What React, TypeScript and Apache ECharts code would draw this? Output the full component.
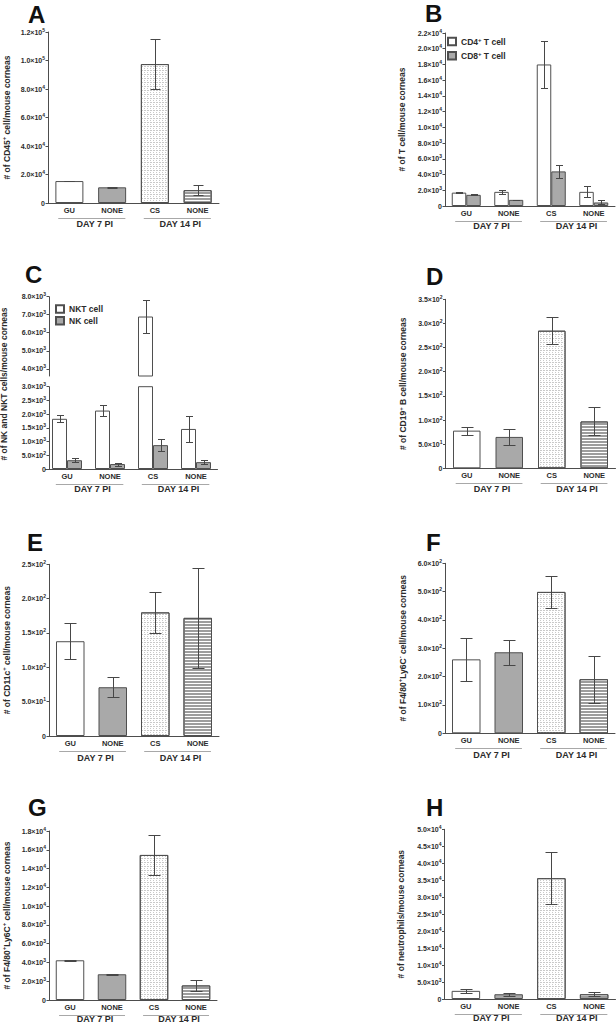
import React, { useEffect, useRef } from 'react';
import * as echarts from 'echarts';

// ---------- data ----------
const CATEGORIES = ['GU', 'NONE', 'CS', 'NONE'];
const GROUP_LABELS = ['DAY 7 PI', 'DAY 14 PI'];
const GROUP_SPANS = [[0, 1], [2, 3]];

const A_MEAN = [15400, 11000, 97500, 9000];
const A_ERR = [300, 250, 17300, 3500];

const B_CD4_MEAN = [1700, 1800, 18000, 1800];
const B_CD4_ERR = [100, 250, 2950, 680];
const B_CD8_MEAN = [1420, 780, 4400, 450];
const B_CD8_ERR = [60, 30, 850, 250];

const C_NKT_MEAN = [1830, 2130, 6900, 1460];
const C_NKT_ERR = [130, 200, 900, 490];
const C_NK_MEAN = [320, 180, 870, 250];
const C_NK_ERR = [70, 55, 220, 70];
const C_BREAK = 3600;
const C_UPPER_TICKS = [4000, 5000, 6000, 7000, 8000];

const D_MEAN = [78, 65, 285, 97];
const D_ERR = [8.5, 17, 28, 29];

const E_MEAN = [138, 71, 180, 172];
const E_ERR = [26, 14.5, 30, 72.5];

const F_MEAN = [261, 286, 499, 191];
const F_ERR = [76, 44, 57, 83];

const G_MEAN = [4230, 2740, 15450, 1550];
const G_ERR = [80, 60, 2100, 550];

const H_MEAN = [2400, 1400, 35600, 1400];
const H_ERR = [550, 450, 7600, 600];

const B_SERIES_NAMES = ['CD4+ T cell', 'CD8+ T cell'];
const C_SERIES_NAMES = ['NKT cell', 'NK cell'];

// ---------- styles ----------
const FONT = '"Liberation Sans", Arial, Helvetica, sans-serif';
const AXIS_COLOR = '#4d4d4d';
const TEXT_COLOR = '#2b2b2b';
const BORDER = '#4f4f4f';
const GREY_FILL = '#a9a9a9';
const GROUP_LINE = '#a8a8a8';

const DOTTED = {
  symbol: 'rect',
  symbolSize: 1,
  dashArrayX: [[2, 1], [1, 2]],
  dashArrayY: [1, 1],
  rotation: 0,
  color: '#c9c9c9',
};
const STRIPES = {
  symbol: 'rect',
  symbolSize: 1,
  dashArrayX: [1, 0],
  dashArrayY: [2, 1],
  rotation: 0,
  color: '#9d9d9d',
};

const SINGLE_STYLES: any[] = [
  { color: '#ffffff', borderColor: BORDER, borderWidth: 1 },
  { color: GREY_FILL, borderColor: BORDER, borderWidth: 1 },
  { color: '#ffffff', borderColor: BORDER, borderWidth: 1, decal: DOTTED },
  { color: '#ffffff', borderColor: BORDER, borderWidth: 1, decal: STRIPES },
];

function sci(v: number): string {
  if (v === 0) return '0';
  const e = Math.floor(Math.log10(v) + 1e-9);
  const m = v / Math.pow(10, e);
  return `${m.toFixed(1)}×10{e|${e}}`;
}

const supStyle = (size: number) => ({
  fontSize: size,
  fontWeight: 'bold',
  fontFamily: FONT,
  color: TEXT_COLOR,
  verticalAlign: 'top',
  lineHeight: size,
});

const GRIDS = [
  { left: 46, top: 32, width: 173, height: 171 }, // A
  { left: 445, top: 33, width: 170, height: 173 }, // B
  { left: 45.5, top: 296.7, width: 172, height: 79.3 }, // C upper
  { left: 45.5, top: 386.7, width: 172, height: 82.3 }, // C lower
  { left: 445.5, top: 299.3, width: 170, height: 169 }, // D
  { left: 47, top: 564.3, width: 172, height: 171.7 }, // E
  { left: 445, top: 563.3, width: 170, height: 170 }, // F
  { left: 46, top: 831, width: 171, height: 169 }, // G
  { left: 444.5, top: 829.3, width: 171, height: 169.7 }, // H
];

function xAxis(gridIndex: number, show = true) {
  return {
    type: 'category',
    gridIndex,
    data: CATEGORIES,
    show,
    axisLine: { show: true, onZero: false, lineStyle: { color: AXIS_COLOR, width: 1 } },
    axisTick: { show: false },
    axisLabel: {
      interval: 0,
      margin: 3,
      fontSize: 7.5,
      fontWeight: 'bold',
      fontFamily: FONT,
      color: TEXT_COLOR,
    },
    splitLine: { show: false },
  };
}

function yAxis(
  gridIndex: number,
  min: number,
  max: number,
  interval: number | undefined,
  name: string,
  nameGap: number,
  extra: any = {}
) {
  const ax: any = {
    type: 'value',
    gridIndex,
    min,
    max,
    name,
    nameLocation: 'middle',
    nameGap,
    nameTextStyle: {
      fontSize: 8.5,
      fontWeight: 'bold',
      fontFamily: FONT,
      color: TEXT_COLOR,
      lineHeight: 11,
      rich: { s: supStyle(6) },
    },
    axisLine: { show: true, lineStyle: { color: AXIS_COLOR, width: 1 } },
    axisTick: { show: true, length: 2.5, lineStyle: { color: AXIS_COLOR } },
    axisLabel: {
      margin: 3,
      fontSize: 7,
      fontWeight: 'bold',
      fontFamily: FONT,
      color: TEXT_COLOR,
      lineHeight: 10,
      formatter: (v: number) => sci(v),
      rich: { e: supStyle(5) },
    },
    splitLine: { show: false },
    ...extra,
  };
  if (interval !== undefined) ax.interval = interval;
  return ax;
}

function singleBar(axisIndex: number, mean: number[], width: number) {
  return {
    type: 'bar',
    xAxisIndex: axisIndex,
    yAxisIndex: axisIndex,
    barWidth: width,
    z: 2,
    data: mean.map((v, i) => ({ value: v, itemStyle: SINGLE_STYLES[i] })),
  };
}

function groupedBar(axisIndex: number, name: string, values: (number | string)[], fill: string, width: number) {
  return {
    type: 'bar',
    name,
    xAxisIndex: axisIndex,
    yAxisIndex: axisIndex,
    barWidth: width,
    barGap: '0%',
    z: 2,
    itemStyle: { color: fill, borderColor: BORDER, borderWidth: 1 },
    data: values,
  };
}

function errSeries(
  axisIndex: number,
  mean: number[],
  err: number[],
  offset: number,
  capHalf: number,
  keep: (m: number) => boolean = () => true
) {
  const data = mean
    .map((m, i) => [i, m, err[i]])
    .filter((d) => keep(d[1]));
  return {
    type: 'custom',
    xAxisIndex: axisIndex,
    yAxisIndex: axisIndex,
    silent: true,
    z: 4,
    clip: false,
    encode: { x: 0, y: 1 },
    data,
    renderItem: (params: any, api: any) => {
      const c = api.value(0);
      const m = api.value(1);
      const e = api.value(2);
      const top = api.coord([c, m + e]);
      const bot = api.coord([c, m - e]);
      const x = Math.round(top[0] + offset) + 0.5;
      const yt = Math.round(top[1]) + 0.5;
      const yb = Math.round(bot[1]) + 0.5;
      const style = { stroke: '#474747', lineWidth: 1 };
      return {
        type: 'group',
        children: [
          { type: 'line', shape: { x1: x, y1: yt, x2: x, y2: yb }, style },
          { type: 'line', shape: { x1: x - capHalf, y1: yt, x2: x + capHalf, y2: yt }, style },
          { type: 'line', shape: { x1: x - capHalf, y1: yb, x2: x + capHalf, y2: yb }, style },
        ],
      };
    },
  };
}

function groupSeries(axisIndex: number, labelOffset = 21) {
  return {
    type: 'custom',
    xAxisIndex: axisIndex,
    yAxisIndex: axisIndex,
    silent: true,
    clip: false,
    encode: { x: 0, y: 1 },
    data: GROUP_SPANS.map((s, i) => [s[0], s[1], i]),
    renderItem: (params: any, api: any) => {
      const a = api.value(0);
      const b = api.value(1);
      const idx = api.value(2);
      const band = api.size([1, 0])[0];
      const cs = params.coordSys;
      const base = cs.y + cs.height;
      const ca = api.coord([a, 0])[0];
      const cb = api.coord([b, 0])[0];
      const x0 = ca - 0.26 * band;
      const x1 = cb + 0.31 * band;
      const ly = Math.round(base + 14.5) + 0.5;
      return {
        type: 'group',
        children: [
          {
            type: 'line',
            shape: { x1: x0, y1: ly, x2: x1, y2: ly },
            style: { stroke: GROUP_LINE, lineWidth: 1 },
          },
          {
            type: 'text',
            x: (x0 + x1) / 2 + 3,
            y: base + labelOffset,
            style: {
              text: GROUP_LABELS[idx],
              font: `bold 9px ${FONT}`,
              fill: TEXT_COLOR,
              align: 'center',
              verticalAlign: 'middle',
            },
          },
        ],
      };
    },
  };
}

function legend(names: string[], left: number, top: number, itemGap: number) {
  return {
    data: names,
    orient: 'vertical',
    left,
    top,
    itemWidth: 8,
    itemHeight: 7.5,
    itemGap,
    icon: 'rect',
    selectedMode: false,
    padding: 0,
    formatter: (n: string) => n.replace('+', '{s|+}'),
    textStyle: {
      fontSize: 8.5,
      fontWeight: 'bold',
      fontFamily: FONT,
      color: TEXT_COLOR,
      lineHeight: 10,
      rich: { s: supStyle(6) },
    },
  };
}

function letter(t: string, x: number, y: number) {
  return {
    type: 'text',
    x,
    y,
    style: {
      text: t,
      font: `bold 24px ${FONT}`,
      fill: '#111111',
      align: 'left',
      verticalAlign: 'middle',
    },
  };
}

function buildOption(): any {
  const cUpperNkt = C_NKT_MEAN.map((v) => (v > C_BREAK ? v : '-'));
  const cUpperNk = C_NK_MEAN.map((v) => (v > C_BREAK ? v : '-'));

  const xAxes = GRIDS.map((_, i) => xAxis(i, i !== 2));
  const yAxes = [
    yAxis(0, 0, 120000, 20000, '# of CD45{s|+} cell/mouse corneas', 36),
    yAxis(1, 0, 22000, 2000, '# of T cell/mouse corneas', 38),
    yAxis(2, C_BREAK, 8000, undefined, '', 0, {
      offset: -3.5,
      axisTick: {
        show: true,
        length: 2.5,
        lineStyle: { color: AXIS_COLOR },
        customValues: C_UPPER_TICKS,
      },
      axisLabel: {
        margin: 3,
        fontSize: 7,
        fontWeight: 'bold',
        fontFamily: FONT,
        color: TEXT_COLOR,
        lineHeight: 10,
        customValues: C_UPPER_TICKS,
        formatter: (v: number) => (v % 1000 === 0 ? sci(v) : ''),
        rich: { e: supStyle(5) },
      },
    }),
    yAxis(3, 0, 3000, 500, '', 0, { offset: -3.5 }),
    yAxis(4, 0, 350, 50, '# of CD19{s|+} B cell/mouse corneas', 37),
    yAxis(5, 0, 250, 50, '# of CD11c{s|+} cell/mouse corneas', 37),
    yAxis(6, 0, 600, 100, '# of F4/80{s|+}Ly6C{s|-} cell/mouse corneas', 37),
    yAxis(7, 0, 18000, 2000, '# of F4/80{s|+}Ly6C{s|+} cell/mouse corneas', 37),
    yAxis(8, 0, 50000, 5000, '# of neutrophils/mouse corneas', 38),
  ];

  const series: any[] = [
    // A
    singleBar(0, A_MEAN, 28),
    errSeries(0, A_MEAN, A_ERR, 0, 5),
    groupSeries(0),
    // B
    groupedBar(1, B_SERIES_NAMES[0], B_CD4_MEAN, '#ffffff', 14.5),
    groupedBar(1, B_SERIES_NAMES[1], B_CD8_MEAN, GREY_FILL, 14.5),
    errSeries(1, B_CD4_MEAN, B_CD4_ERR, -7.25, 3.5),
    errSeries(1, B_CD8_MEAN, B_CD8_ERR, 7.25, 3.5),
    groupSeries(1, 20),
    // C upper
    groupedBar(2, C_SERIES_NAMES[0], cUpperNkt, '#ffffff', 15),
    groupedBar(2, C_SERIES_NAMES[1], cUpperNk, GREY_FILL, 15),
    errSeries(2, C_NKT_MEAN, C_NKT_ERR, -7.5, 3.5, (m) => m > C_BREAK),
    // C lower
    groupedBar(3, C_SERIES_NAMES[0], C_NKT_MEAN, '#ffffff', 15),
    groupedBar(3, C_SERIES_NAMES[1], C_NK_MEAN, GREY_FILL, 15),
    errSeries(3, C_NKT_MEAN, C_NKT_ERR, -7.5, 3.5, (m) => m <= C_BREAK),
    errSeries(3, C_NK_MEAN, C_NK_ERR, 7.5, 3.5, (m) => m <= C_BREAK),
    groupSeries(3, 20),
    // D
    singleBar(4, D_MEAN, 27.5),
    errSeries(4, D_MEAN, D_ERR, 0, 6),
    groupSeries(4, 20.5),
    // E
    singleBar(5, E_MEAN, 28.5),
    errSeries(5, E_MEAN, E_ERR, 0, 6),
    groupSeries(5, 21.5),
    // F
    singleBar(6, F_MEAN, 28.5),
    errSeries(6, F_MEAN, F_ERR, 0, 6),
    groupSeries(6, 21.5),
    // G
    singleBar(7, G_MEAN, 28.5),
    errSeries(7, G_MEAN, G_ERR, 0, 6),
    groupSeries(7, 18.5),
    // H
    singleBar(8, H_MEAN, 28.5),
    errSeries(8, H_MEAN, H_ERR, 0, 6),
    groupSeries(8, 18.5),
  ];

  return {
    animation: false,
    backgroundColor: '#ffffff',
    textStyle: { fontFamily: FONT },
    grid: GRIDS.map((g) => ({ ...g, containLabel: false })),
    xAxis: xAxes,
    yAxis: yAxes,
    legend: [
      legend(B_SERIES_NAMES, 447, 36.5, 4.3),
      legend(C_SERIES_NAMES, 55, 304, 1.7),
    ],
    graphic: [
      letter('A', 28, 14),
      letter('B', 425, 13.5),
      letter('C', 25, 274),
      letter('D', 426, 276),
      letter('E', 27, 542),
      letter('F', 426, 542),
      letter('G', 28, 807.5),
      letter('H', 426, 807.5),
      {
        type: 'text',
        x: 3.5,
        y: 384,
        rotation: Math.PI / 2,
        style: {
          text: '# of NK and NKT cells/mouse corneas',
          font: `bold 8.5px ${FONT}`,
          fill: TEXT_COLOR,
          align: 'center',
          verticalAlign: 'middle',
        },
      },
    ],
    series,
  };
}

export default function App() {
  const ref = useRef<HTMLDivElement>(null);
  useEffect(() => {
    if (!ref.current) return;
    const chart = echarts.init(ref.current, undefined, { renderer: 'svg' });
    chart.setOption(buildOption());
    return () => chart.dispose();
  }, []);
  return (
    <div
      ref={ref}
      style={{ position: 'fixed', left: 0, top: 0, width: 616, height: 1024, background: '#fff' }}
    />
  );
}
